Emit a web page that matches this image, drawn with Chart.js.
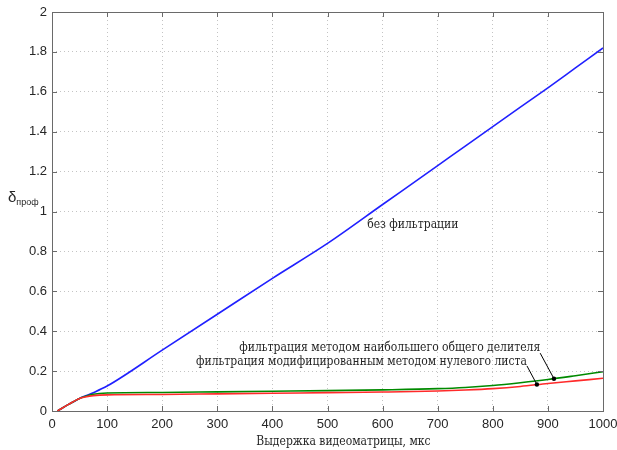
<!DOCTYPE html>
<html>
<head>
<meta charset="utf-8">
<script src="https://cdn.jsdelivr.net/npm/chart.js@4.4.1/dist/chart.umd.min.js"></script>
<style>
html,body{margin:0;padding:0;background:#fff;}
#wrap{width:617px;height:450px;position:relative;}
</style>
</head>
<body>
<div id="wrap"><canvas id="c" width="617" height="450"></canvas></div>
<script>
// ---- data ----
const exposure = [10, 30, 50, 60, 75, 100, 200, 300, 400, 500, 600, 700, 750, 800, 850, 900, 950, 1000];
const noFilter = [0, 0.033, 0.063, 0.075, 0.092, 0.125, 0.305, 0.485, 0.665, 0.84, 1.035, 1.23, 1.328, 1.425, 1.523, 1.62, 1.72, 1.82];
const gcdFilter = [0, 0.033, 0.063, 0.073, 0.084, 0.09, 0.093, 0.096, 0.099, 0.102, 0.106, 0.112, 0.118, 0.128, 0.142, 0.158, 0.177, 0.197];
const zeroLeafFilter = [0, 0.033, 0.063, 0.07, 0.077, 0.081, 0.083, 0.086, 0.089, 0.092, 0.095, 0.1, 0.105, 0.112, 0.123, 0.138, 0.151, 0.164];
const seriesNames = ['без фильтрации', 'фильтрация методом наибольшего общего делителя', 'фильтрация модифицированным методом нулевого листа'];
const xTickLabels = ['0','100','200','300','400','500','600','700','800','900','1000'];
const yTickLabels = ['0','0.2','0.4','0.6','0.8','1','1.2','1.4','1.6','1.8','2'];
const xTitle = 'Выдержка видеоматрицы, мкс';
const yTitleMain = 'δ';
const yTitleSub = 'проф';

// annotations (data units)
const notes = [
  {text: seriesNames[0], x: 572, y: 0.932, align: 'left'},
  {text: seriesNames[1], x: 886, y: 0.314, align: 'right', from: [886, 0.29], to: [911, 0.162]},
  {text: seriesNames[2], x: 862, y: 0.244, align: 'right', from: [862, 0.226], to: [880, 0.133]}
];

const pts = (ys) => exposure.map((x, i) => ({x: x, y: ys[i]}));

const AXIS_COLOR = '#6a6a6a';
const TEXT_COLOR = '#262626';
const SERIF = '12px "DejaVu Serif Condensed", "DejaVu Serif"';

const overlay = {
  id: 'overlay',
  afterDraw(chart) {
    const ctx = chart.ctx;
    const a = chart.chartArea;
    const xs = chart.scales.x, ys = chart.scales.y;
    ctx.save();
    // box
    ctx.strokeStyle = AXIS_COLOR;
    ctx.lineWidth = 1;
    ctx.strokeRect(Math.round(a.left) + 0.5, Math.round(a.top) + 0.5, Math.round(a.right - a.left), Math.round(a.bottom - a.top));
    // inward ticks on all sides
    ctx.beginPath();
    const tl = 5;
    xs.ticks.forEach(t => {
      const px = Math.round(xs.getPixelForValue(t.value)) + 0.5;
      ctx.moveTo(px, a.bottom); ctx.lineTo(px, a.bottom - tl);
      ctx.moveTo(px, a.top); ctx.lineTo(px, a.top + tl);
    });
    ys.ticks.forEach(t => {
      const py = Math.round(ys.getPixelForValue(t.value)) + 0.5;
      ctx.moveTo(a.left, py); ctx.lineTo(a.left + tl, py);
      ctx.moveTo(a.right, py); ctx.lineTo(a.right - tl, py);
    });
    ctx.stroke();

    // x title
    ctx.fillStyle = TEXT_COLOR;
    ctx.font = SERIF;
    ctx.textAlign = 'center';
    ctx.textBaseline = 'middle';
    ctx.fillText(xTitle, xs.getPixelForValue(529), a.bottom + 31);

    // y title with subscript
    ctx.font = '15px "Liberation Sans"';
    ctx.textAlign = 'left';
    const ty = ys.getPixelForValue(1.07);
    ctx.fillText(yTitleMain, 8, ty);
    const w = ctx.measureText(yTitleMain).width;
    ctx.font = '9px "Liberation Sans"';
    ctx.fillText(yTitleSub, 8 + w, ty + 5);

    // annotations
    ctx.font = SERIF;
    ctx.fillStyle = TEXT_COLOR;
    notes.forEach(n => {
      ctx.textAlign = n.align;
      ctx.textBaseline = 'middle';
      ctx.fillText(n.text, xs.getPixelForValue(n.x), ys.getPixelForValue(n.y));
      if (n.from) {
        const fx = xs.getPixelForValue(n.from[0]), fy = ys.getPixelForValue(n.from[1]);
        const tx = xs.getPixelForValue(n.to[0]), tyy = ys.getPixelForValue(n.to[1]);
        ctx.strokeStyle = '#000';
        ctx.lineWidth = 1;
        ctx.beginPath(); ctx.moveTo(fx, fy); ctx.lineTo(tx, tyy); ctx.stroke();
        ctx.fillStyle = '#000';
        ctx.beginPath(); ctx.arc(tx, tyy, 2.2, 0, Math.PI * 2); ctx.fill();
        ctx.fillStyle = TEXT_COLOR;
      }
    });
    ctx.restore();
  }
};

new Chart(document.getElementById('c'), {
  type: 'line',
  data: {
    datasets: [
      {label: seriesNames[0], data: pts(noFilter), borderColor: '#2020ff', borderWidth: 1.6, pointRadius: 0, cubicInterpolationMode: 'monotone', order: 2},
      {label: seriesNames[1], data: pts(gcdFilter), borderColor: '#008a00', borderWidth: 1.6, pointRadius: 0, cubicInterpolationMode: 'monotone', order: 1},
      {label: seriesNames[2], data: pts(zeroLeafFilter), borderColor: '#ff2a2a', borderWidth: 1.6, pointRadius: 0, cubicInterpolationMode: 'monotone', order: 0}
    ]
  },
  options: {
    responsive: false,
    animation: false,
    devicePixelRatio: 1,
    layout: {padding: {top: 12, right: 14, left: 0, bottom: 0}},
    plugins: {legend: {display: false}, tooltip: {enabled: false}},
    scales: {
      x: {
        type: 'linear', min: 0, max: 1000,
        afterFit(s) { s.height = 39; s.paddingLeft = 0; s.paddingRight = 0; },
        ticks: {stepSize: 100, padding: 6, color: TEXT_COLOR, font: {family: 'Liberation Sans', size: 13},
          maxRotation: 0, autoSkip: false,
          callback: (v, i) => xTickLabels[i]},
        grid: {color: '#c4c4c4', lineWidth: 1, drawTicks: false},
        border: {display: false, dash: [1, 3]}
      },
      y: {
        type: 'linear', min: 0, max: 2,
        afterFit(s) { s.width = 52; s.paddingTop = 0; s.paddingBottom = 0; },
        ticks: {stepSize: 0.2, padding: 5, color: TEXT_COLOR, font: {family: 'Liberation Sans', size: 13},
          autoSkip: false,
          callback: (v, i) => yTickLabels[i]},
        grid: {color: '#c4c4c4', lineWidth: 1, drawTicks: false},
        border: {display: false, dash: [1, 3]}
      }
    }
  },
  plugins: [overlay]
});
</script>
</body>
</html>
